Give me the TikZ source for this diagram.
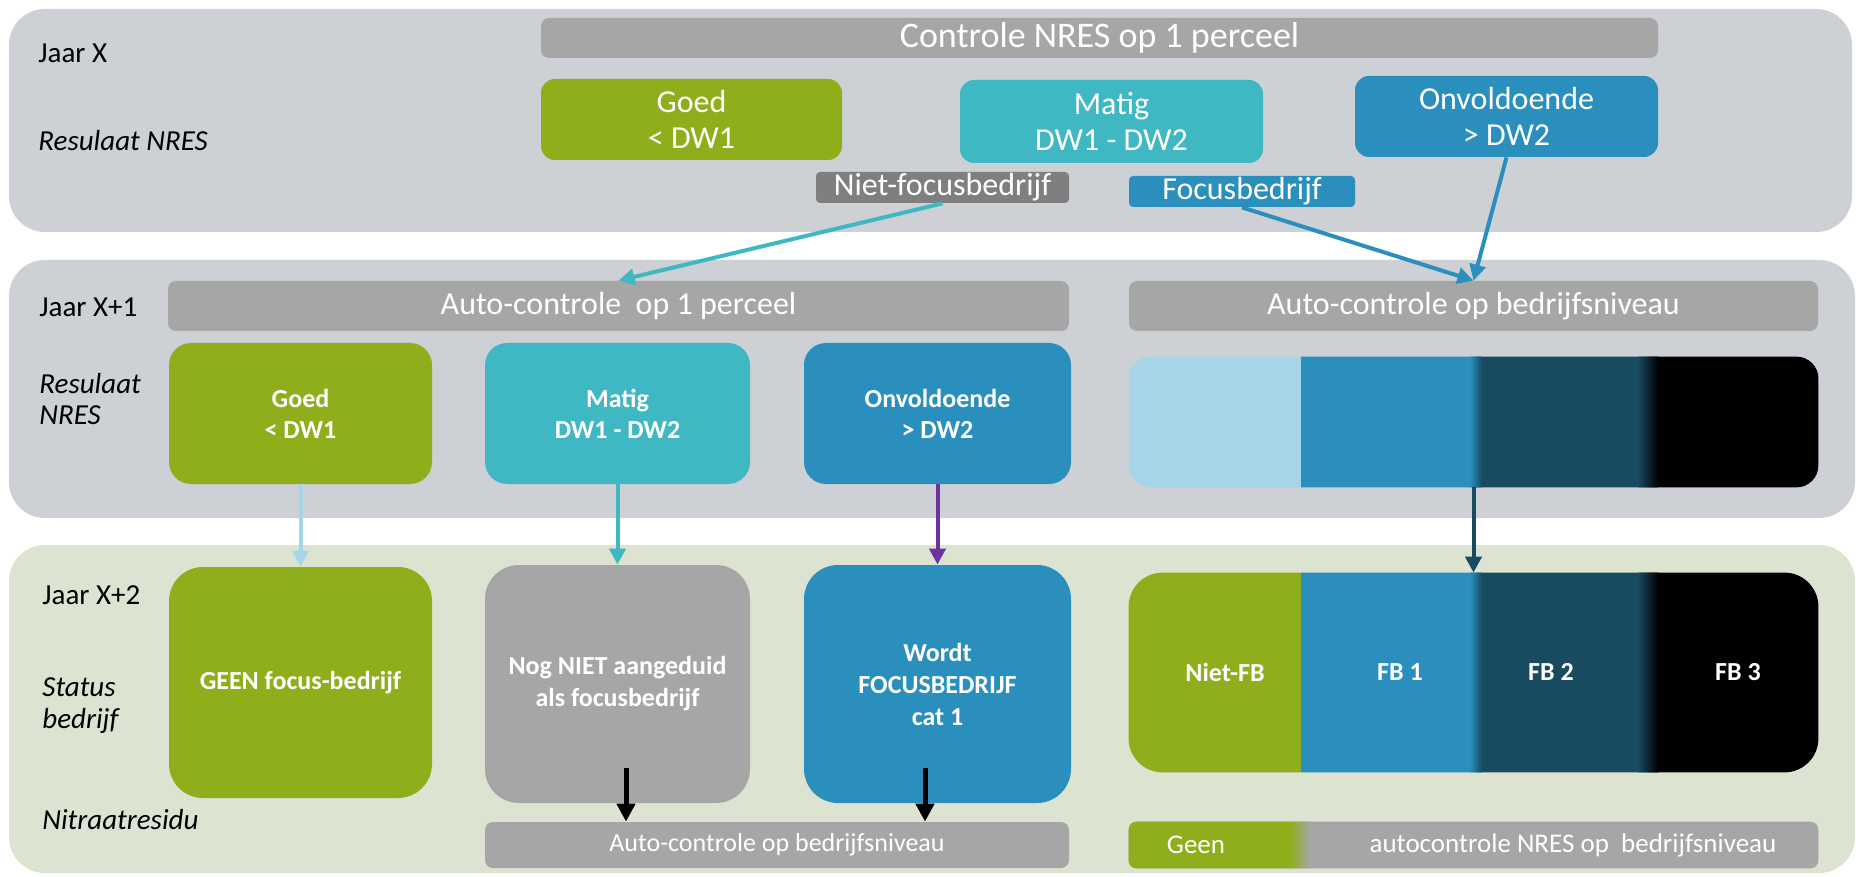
\documentclass[tikz,border=0pt]{standalone}
\usepackage{fontspec}
\setmainfont{Carlito}
\usetikzlibrary{arrows.meta}

\definecolor{panelgray}{RGB}{205,208,212}
\definecolor{panelgreen}{RGB}{220,227,208}
\definecolor{bannergray}{RGB}{166,166,166}
\definecolor{labelgray}{RGB}{127,127,127}
\definecolor{nresgreen}{RGB}{143,174,27}
\definecolor{nresteal}{RGB}{64,184,196}
\definecolor{nresblue}{RGB}{42,143,189}
\definecolor{nreslight}{RGB}{166,213,234}
\definecolor{nresdark}{RGB}{24,74,96}
\definecolor{nrespurple}{RGB}{112,48,160}

\begin{document}
\begin{tikzpicture}[x=0.5pt,y=-0.5pt,
    sz/.style 2 args={minimum width=#1*0.5pt,minimum height=#2*0.5pt},
    panel/.style={rounded corners=18pt,inner sep=0pt},
    banner/.style={fill=bannergray,rounded corners=4pt,text=white,inner sep=0pt,font=\fontsize{16}{19}\selectfont},
    lowbanner/.style={banner,font=\fontsize{13}{16}\selectfont},
    tag/.style={rounded corners=2pt,text=white,inner sep=0pt,font=\fontsize{16}{19}\selectfont},
    topbox/.style={rounded corners=7pt,text=white,align=center,inner sep=0pt,font=\fontsize{16}{18}\selectfont},
    midbox/.style={rounded corners=11pt,text=white,align=center,inner sep=0pt,font=\bfseries\fontsize{13}{15.5}\selectfont},
    botbox/.style={rounded corners=17pt,text=white,align=center,inner sep=0pt,font=\bfseries\fontsize{13}{16}\selectfont},
    bartext/.style={text=white,inner sep=0pt,font=\bfseries\fontsize{13}{16}\selectfont},
    rowlabel/.style={anchor=west,inner sep=0pt,align=left,font=\fontsize{14.5}{15.5}\selectfont},
    link/.style={line width=2pt,-{Triangle[length=8pt,width=8pt]}},
    push/.style={line width=2.5pt,-{Triangle[length=9pt,width=9pt]}}
]
    \useasboundingbox (0,0) rectangle (1859,877);

    % panels
    \node[panel,fill=panelgray,sz={1843}{223}] (paneltop) at (930.5,120.5) {};
    \node[panel,fill=panelgray,sz={1846}{258}] (panelmid) at (932,389) {};
    \node[panel,fill=panelgreen,sz={1846}{328}] (panelbot) at (932,709) {};

    % row labels
    \node[rowlabel] (jaarx) at (38,53) {Jaar X};
    \node[rowlabel] (resx) at (38,141) {\itshape Resulaat NRES};
    \node[rowlabel] (jaarxa) at (39,307) {Jaar X+1};
    \node[rowlabel] (resxa) at (39,399) {\itshape Resulaat\\\itshape NRES};
    \node[rowlabel] (jaarxb) at (42,595) {Jaar X+2};
    \node[rowlabel,font=\fontsize{14.5}{16}\selectfont] (statusxb) at (42,706) {\itshape Status\\\itshape bedrijf};
    \node[rowlabel] (nitraat) at (42,820) {\itshape Nitraatresidu};

    % jaar X
    \node[banner,font=\fontsize{18}{21}\selectfont,sz={1117}{40}] (bannertop) at (1099.5,38) {Controle NRES op 1 perceel};
    \node[topbox,fill=nresgreen,sz={301}{81}] (goedtop) at (691.5,119.5) {Goed\\< DW1};
    \node[topbox,fill=nresteal,sz={303}{83}] (matigtop) at (1111.5,121.5) {Matig\\DW1 - DW2};
    \node[topbox,fill=nresblue,sz={303}{81}] (onvtop) at (1506.5,116.5) {Onvoldoende\\> DW2};
    \node[tag,fill=labelgray,sz={253}{31}] (nietfb) at (942.5,187.5) {Niet-focusbedrijf};
    \node[tag,fill=nresblue,sz={226}{31}] (focusfb) at (1242,191.5) {Focusbedrijf};

    % jaar X+1
    \node[banner,sz={901}{50}] (bannerL) at (618.5,306) {Auto-controle~ op 1 perceel};
    \node[banner,sz={689}{50}] (bannerR) at (1473.5,306) {Auto-controle op bedrijfsniveau};
    \node[midbox,fill=nresgreen,sz={263}{141}] (goedmid) at (300.5,413.5) {Goed\\< DW1};
    \node[midbox,fill=nresteal,sz={265}{141}] (matigmid) at (617.5,413.5) {Matig\\DW1 - DW2};
    \node[midbox,fill=nresblue,sz={267}{141}] (onvmid) at (937.5,413.5) {Onvoldoende\\> DW2};
    \node[midbox,sz={689}{130}] (barmid) at (1473.5,422) {};
    \begin{scope}
        \clip[rounded corners=11pt] (barmid.north west) rectangle (barmid.south east);
        \fill[nreslight] (1120,350) rectangle (1301,495);
        \fill[nresblue] (1301,350) rectangle (1476,495);
        \fill[nresdark] (1476,350) rectangle (1648,495);
        \fill[black] (1648,350) rectangle (1830,495);
        \shade[left color=nresblue,right color=nresdark] (1470,350) rectangle (1482,495);
        \shade[left color=nresdark,right color=black] (1638,350) rectangle (1658,495);
    \end{scope}

    % jaar X+2
    \node[botbox,fill=nresgreen,sz={263}{231}] (geen) at (300.5,682.5) {GEEN focus-bedrijf};
    \node[botbox,fill=bannergray,sz={265}{238}] (nog) at (617.5,684) {Nog NIET aangeduid\\als focusbedrijf};
    \node[botbox,fill=nresblue,sz={267}{238}] (wordt) at (937.5,684) {Wordt\\FOCUSBEDRIJF\\cat 1};
    \node[botbox,sz={689}{199}] (barbot) at (1473.5,672.5) {};
    \begin{scope}
        \clip[rounded corners=17pt] (barbot.north west) rectangle (barbot.south east);
        \fill[nresgreen] (1120,565) rectangle (1301,780);
        \fill[nresblue] (1301,565) rectangle (1476,780);
        \fill[nresdark] (1476,565) rectangle (1648,780);
        \fill[black] (1648,565) rectangle (1830,780);
        \shade[left color=nresblue,right color=nresdark] (1470,565) rectangle (1482,780);
        \shade[left color=nresdark,right color=black] (1638,565) rectangle (1658,780);
    \end{scope}
    \node[bartext] (fbniet) at (1225,672) {Niet-FB};
    \node[bartext] (fbone) at (1400,672) {FB 1};
    \node[bartext] (fbtwo) at (1551,672) {FB 2};
    \node[bartext] (fbthree) at (1738,672) {FB 3};

    \node[lowbanner,sz={584}{46}] (bannerB) at (777,845) {Auto-controle op bedrijfsniveau};
    \node[lowbanner,fill=none,sz={689}{46}] (bannerG) at (1473.5,845) {};
    \begin{scope}
        \clip[rounded corners=4pt] (bannerG.north west) rectangle (bannerG.south east);
        \fill[bannergray] (1120,815) rectangle (1830,875);
        \fill[nresgreen] (1120,815) rectangle (1290,875);
        \shade[left color=nresgreen,right color=bannergray] (1290,815) rectangle (1310,875);
    \end{scope}
    \node[bartext,font=\fontsize{13.5}{16}\selectfont] (geentext) at (1196,845) {Geen};
    \node[bartext,font=\fontsize{13.5}{16}\selectfont] (autotext) at (1573,845) {autocontrole NRES op~ bedrijfsniveau};

    % connectors
    \draw[link,nresteal] (nietfb.south) -- (bannerL.north);
    \draw[link,nresblue] (focusfb.south) -- (bannerR.north);
    \draw[link,nresblue] (onvtop.south) -- (bannerR.north);
    \draw[link,nreslight] (goedmid.south) -- (geen.north);
    \draw[link,nresteal] (matigmid.south) -- (nog.north);
    \draw[link,nrespurple] (onvmid.south) -- (wordt.north);
    \draw[link,nresdark] (barmid.south) -- (barbot.north);
    \coordinate (nogtail) at (626,768);
    \coordinate (wordttail) at (925,768);
    \draw[push] (nogtail) -- (nogtail |- bannerB.north);
    \draw[push] (wordttail) -- (wordttail |- bannerB.north);
\end{tikzpicture}
\end{document}
